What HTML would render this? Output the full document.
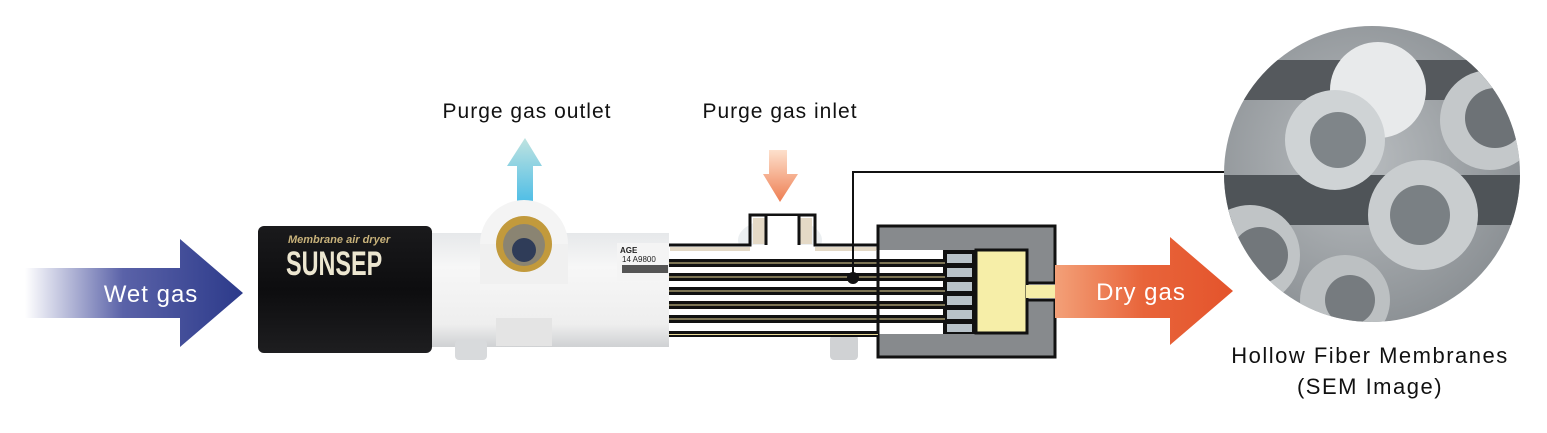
<!DOCTYPE html>
<html><head><meta charset="utf-8"><style>
html,body{margin:0;padding:0;background:#fff;}
svg{display:block}
text{font-family:"Liberation Sans",sans-serif;}
</style></head><body>
<svg width="1547" height="433" viewBox="0 0 1547 433" xmlns="http://www.w3.org/2000/svg">
<defs>
<linearGradient id="wet" x1="0" x2="1"><stop offset="0" stop-color="#fff"/><stop offset="0.45" stop-color="#5a62a8"/><stop offset="1" stop-color="#2c3a8a"/></linearGradient>
<linearGradient id="dry" x1="0" x2="1"><stop offset="0" stop-color="#f3a078"/><stop offset="0.5" stop-color="#e8643a"/><stop offset="1" stop-color="#e4542c"/></linearGradient>
<linearGradient id="up" x1="0" y1="1" x2="0" y2="0"><stop offset="0" stop-color="#4dbde6"/><stop offset="1" stop-color="#bfe3e0"/></linearGradient>
<linearGradient id="down" x1="0" y1="0" x2="0" y2="1"><stop offset="0" stop-color="#fde0cc"/><stop offset="1" stop-color="#ee7e52"/></linearGradient>
<linearGradient id="tube" x1="0" y1="0" x2="0" y2="1"><stop offset="0" stop-color="#e6e8ea"/><stop offset="0.3" stop-color="#f7f7f7"/><stop offset="0.8" stop-color="#eeeeee"/><stop offset="1" stop-color="#cfd1d3"/></linearGradient>
<linearGradient id="cap" x1="0" y1="0" x2="0" y2="1"><stop offset="0" stop-color="#1a1a1c"/><stop offset="0.5" stop-color="#0d0d0f"/><stop offset="1" stop-color="#1e1e20"/></linearGradient>
<radialGradient id="sem" cx="0.45" cy="0.45" r="0.6"><stop offset="0" stop-color="#b9bdc0"/><stop offset="1" stop-color="#8a8f93"/></radialGradient>
<clipPath id="circ"><circle cx="1372" cy="174" r="148"/></clipPath>
</defs>

<polygon points="25,268 180,268 180,239 243,293 180,347 180,318 25,318" fill="url(#wet)"/>
<text x="151" y="302" font-size="24" fill="#fff" text-anchor="middle" letter-spacing="1">Wet gas</text>

<text x="527" y="118" font-size="21" fill="#111" text-anchor="middle" letter-spacing="1">Purge gas outlet</text>
<polygon points="525,138 542,166 533,166 533,203 517,203 517,166 507,166" fill="url(#up)"/>
<text x="780" y="118" font-size="21" fill="#111" text-anchor="middle" letter-spacing="1">Purge gas inlet</text>
<polygon points="769,150 787,150 787,174 798,174 780,202 763,174 769,174" fill="url(#down)"/>

<rect x="430" y="233" width="239" height="114" fill="url(#tube)"/>
<rect x="455" y="340" width="32" height="20" rx="4" fill="#d8dadc"/>
<rect x="830" y="335" width="28" height="25" rx="4" fill="#d0d2d4"/>
<rect x="496" y="318" width="56" height="28" fill="#e4e4e4"/>
<ellipse cx="780" cy="240" rx="42" ry="22" fill="#eceff1"/>
<circle cx="524" cy="244" r="44" fill="#f4f4f4"/>
<rect x="480" y="244" width="88" height="40" fill="#f0f0f0"/>
<circle cx="524" cy="244" r="28" fill="#c29a3c"/>
<circle cx="524" cy="245" r="21" fill="#8a8472"/>
<circle cx="524" cy="250" r="12" fill="#2f3c58"/>
<rect x="617" y="243" width="52" height="38" fill="#f4f4f4"/>
<text x="620" y="253" font-size="8" font-weight="bold" fill="#222">AGE</text>
<text x="622" y="262" font-size="8" fill="#222">14 A9800</text>
<rect x="622" y="265" width="46" height="8" fill="#555"/>

<rect x="258" y="226" width="174" height="127" rx="6" fill="url(#cap)"/>
<text x="288" y="243" font-size="11" font-style="italic" font-weight="bold" fill="#c8b27a">Membrane air dryer</text>
<text x="0" y="0" font-size="30" font-weight="bold" fill="#ece6d0" transform="translate(286,275) scale(0.78,1.15)">SUNSEP</text>

<rect x="669" y="245" width="210" height="92" fill="#fff"/>
<path d="M669,245 L750,245 L750,215 L815,215 L815,245 L879,245" fill="none" stroke="#111" stroke-width="3"/>
<rect x="753" y="218" width="13" height="26" fill="#e4d9c6"/>
<rect x="799" y="218" width="13" height="26" fill="#e4d9c6"/>
<rect x="670" y="247" width="80" height="4" fill="#e4d9c6"/>
<rect x="815" y="247" width="63" height="4" fill="#e4d9c6"/>
<rect x="766" y="216" width="33" height="30" fill="#fff"/>
<path d="M766,215 L766,245 M799,215 L799,245" stroke="#111" stroke-width="3"/>
<path d="M878,226 H1055 V283 H1027 V300 H1055 V357 H878 Z" fill="#878a8d" stroke="#111" stroke-width="3"/>
<rect x="876" y="250" width="100" height="84" fill="#fff"/>
<rect x="976" y="250" width="51" height="83" fill="#f6eea8" stroke="#111" stroke-width="3"/>
<rect x="1026" y="285" width="30" height="13" fill="#f6eea8"/>
<rect x="943" y="250" width="33" height="84" fill="#111"/>
<g fill="#b8c2c8">
<rect x="947" y="254" width="25" height="9"/><rect x="947" y="268" width="25" height="9"/><rect x="947" y="282" width="25" height="9"/>
<rect x="947" y="296" width="25" height="9"/><rect x="947" y="310" width="25" height="9"/><rect x="947" y="324" width="25" height="8"/>
</g>
<g fill="#111">
<rect x="669" y="259" width="276" height="8"/><rect x="669" y="273" width="276" height="8"/><rect x="669" y="287" width="276" height="8"/>
<rect x="669" y="301" width="276" height="8"/><rect x="669" y="315" width="276" height="8"/><rect x="669" y="331" width="209" height="6"/>
</g>
<g fill="#e8d896">
<rect x="669" y="262.5" width="276" height="1"/><rect x="669" y="276.5" width="276" height="1"/><rect x="669" y="290.5" width="276" height="1"/>
<rect x="669" y="304.5" width="276" height="1"/><rect x="669" y="318.5" width="276" height="1"/><rect x="669" y="334" width="209" height="1"/>
</g>
<line x1="878" y1="250" x2="878" y2="334" stroke="#111" stroke-width="3"/>

<polyline points="853,278 853,172 1225,172" fill="none" stroke="#111" stroke-width="2"/>
<circle cx="853" cy="278" r="6" fill="#111"/>

<polygon points="1055,265 1170,265 1170,237 1233,291 1170,345 1170,318 1055,318" fill="url(#dry)"/>
<text x="1141" y="300" font-size="24" fill="#fff" text-anchor="middle" letter-spacing="1">Dry gas</text>

<g clip-path="url(#circ)">
<rect x="1224" y="26" width="296" height="296" fill="url(#sem)"/>
<rect x="1224" y="60" width="300" height="40" fill="#55595d"/>
<rect x="1224" y="175" width="300" height="50" fill="#4f5458"/>
<circle cx="1378" cy="90" r="48" fill="#e8eaeb"/>
<circle cx="1335" cy="140" r="50" fill="#cfd3d5"/><circle cx="1338" cy="140" r="28" fill="#7f8589"/>
<circle cx="1490" cy="120" r="50" fill="#c4c8ca"/><circle cx="1495" cy="118" r="30" fill="#6d7276"/>
<circle cx="1423" cy="215" r="55" fill="#c9cdcf"/><circle cx="1420" cy="215" r="30" fill="#7a8084"/>
<circle cx="1250" cy="255" r="50" fill="#c0c4c6"/><circle cx="1260" cy="255" r="28" fill="#72777b"/>
<circle cx="1345" cy="300" r="45" fill="#bcc0c2"/><circle cx="1350" cy="300" r="25" fill="#767b7f"/>
</g>
<text x="1370" y="363" font-size="22" fill="#111" text-anchor="middle" letter-spacing="1.5">Hollow Fiber Membranes</text>
<text x="1370" y="394" font-size="22" fill="#111" text-anchor="middle" letter-spacing="1.5">(SEM Image)</text>
</svg>
</body></html>
